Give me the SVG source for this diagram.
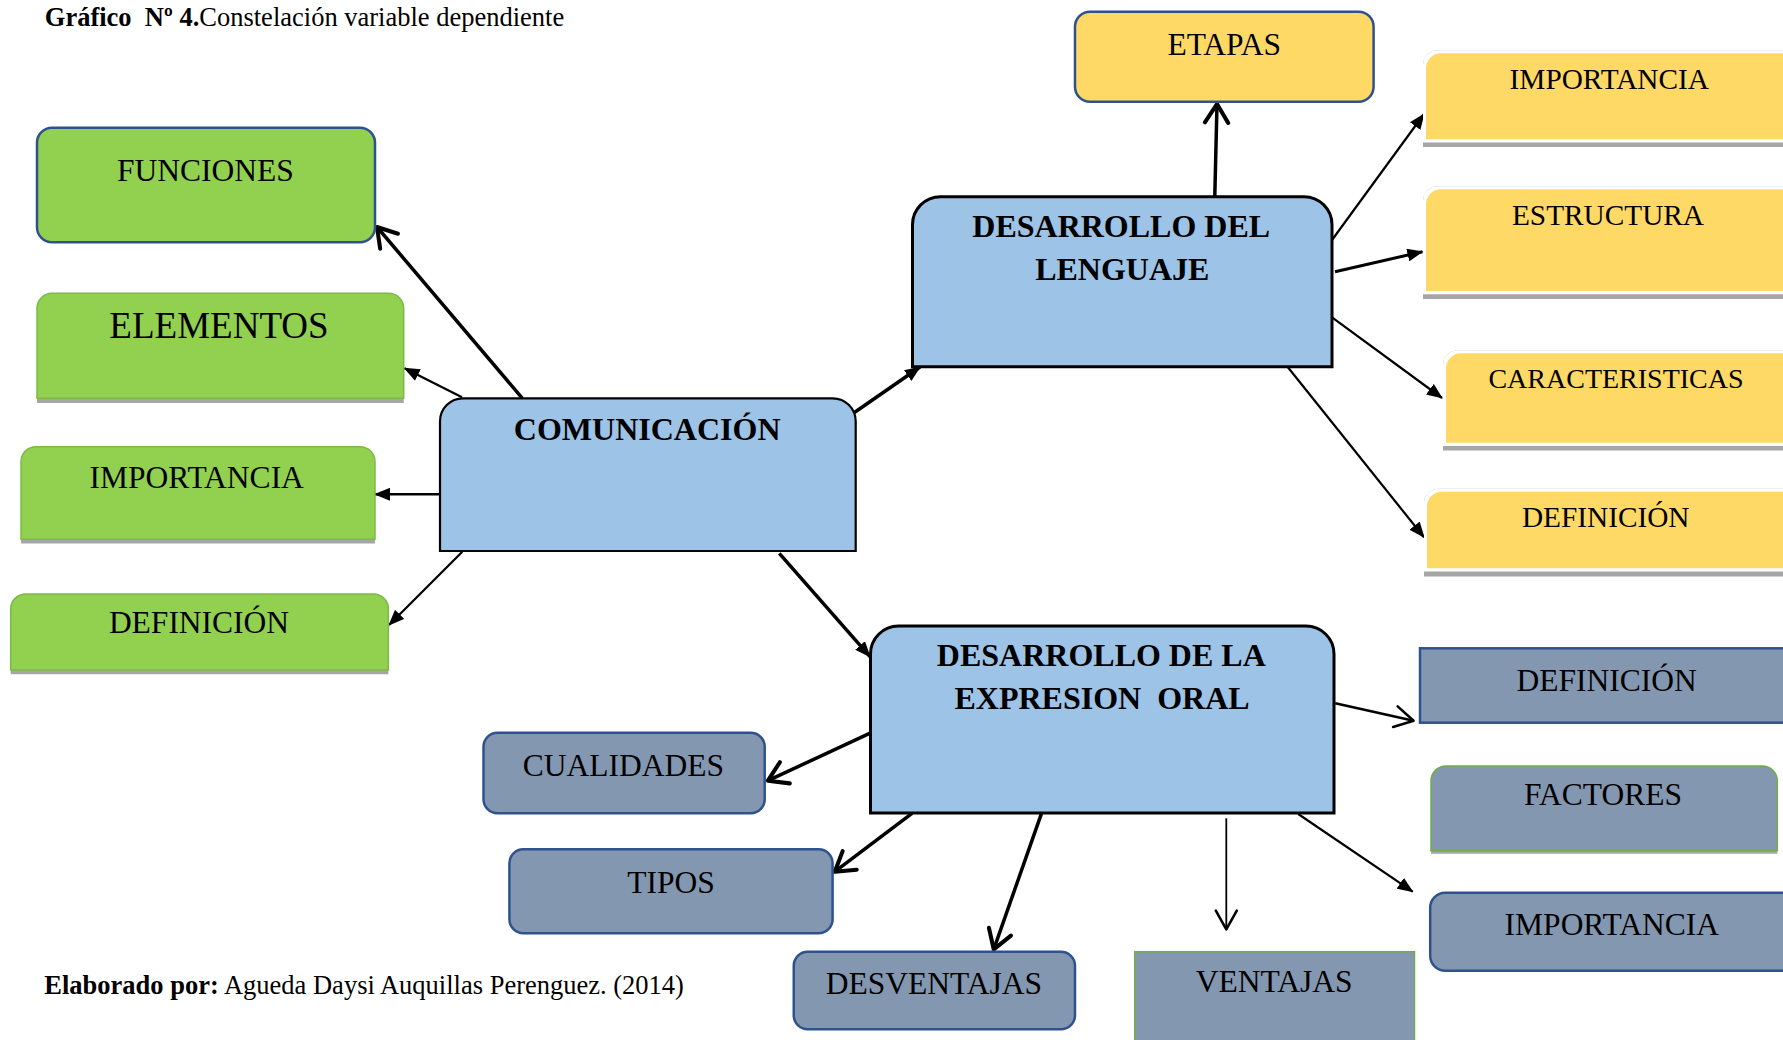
<svg xmlns="http://www.w3.org/2000/svg" width="1783" height="1040" viewBox="0 0 1783 1040">
<style>
text{font-family:"Liberation Serif","Times New Roman",serif;fill:#000;white-space:pre}
.t{font-size:31.5px;text-anchor:middle}
.ty{font-size:29.3px;text-anchor:middle}
.b{font-size:32px;font-weight:bold;text-anchor:middle}
.green{fill:#92D050;stroke:#7DB946;stroke-width:1.5}
.yel{fill:#FFD966}
.white{fill:#FFFFFF}
.shadow{fill:#A6A6A6}
.blue{fill:#9DC3E6;stroke:#000}
.slate{fill:#8497B0;stroke:#2F528F;stroke-width:2.5}
.slateg{fill:#8497B0;stroke:#70AD47;stroke-width:1.5}
.gold{fill:#FFD966;stroke:#2F528F;stroke-width:2.5}
.gbox{fill:#92D050;stroke:#2F528F;stroke-width:2.5}
.c{fill:none;stroke:#000}
</style>
<defs>
<marker id="tri" markerUnits="userSpaceOnUse" markerWidth="16" markerHeight="13" viewBox="0 0 16 13" refX="15" refY="6.5" orient="auto"><path d="M0,0 L16,6.5 L0,13 z" fill="#000"/></marker>
<marker id="openK" markerUnits="userSpaceOnUse" markerWidth="24" markerHeight="28" viewBox="0 0 20 24" refX="18" refY="12" orient="auto" overflow="visible"><path d="M2,2 L18,12 L2,22" fill="none" stroke="#000" stroke-width="3.5" stroke-linejoin="round" stroke-linecap="round"/></marker>
<marker id="openN" markerUnits="userSpaceOnUse" markerWidth="24" markerHeight="28" viewBox="0 0 20 24" refX="18" refY="12" orient="auto" overflow="visible"><path d="M2,3 L18,12 L2,21" fill="none" stroke="#000" stroke-width="2.2" stroke-linejoin="round" stroke-linecap="round"/></marker>
</defs>
<rect width="1783" height="1040" fill="#FFFFFF"/>

<g id="title">
<text x="44.8" y="25.7" font-size="26.5"><tspan font-weight="bold">Gráfico  Nº 4.</tspan>Constelación variable dependiente</text>
</g>
<g id="credit">
<text x="44.3" y="994" font-size="26.5"><tspan font-weight="bold">Elaborado por:</tspan> Agueda Daysi Auquillas Perenguez. (2014)</text>
</g>

<g id="connectors">
<path class="c" stroke-width="3.5" d="M522.4,398.3 L377,227" marker-end="url(#openK)"/>
<path class="c" stroke-width="2.2" d="M462,397.3 L404.5,368.3" marker-end="url(#tri)"/>
<path class="c" stroke-width="2.5" d="M440,494.3 L375,494.3" marker-end="url(#tri)"/>
<path class="c" stroke-width="2.2" d="M462.3,551.7 L389,625" marker-end="url(#tri)"/>
<path class="c" stroke-width="3.5" d="M853.3,413.3 L920,367" marker-end="url(#tri)"/>
<path class="c" stroke-width="3.5" d="M779.3,553.3 L870,656.7" marker-end="url(#tri)"/>
<path class="c" stroke-width="3.5" d="M1214.8,196 L1217,104" marker-end="url(#openK)"/>
<path class="c" stroke-width="2.2" d="M1332,240 L1424,114" marker-end="url(#tri)"/>
<path class="c" stroke-width="3" d="M1335,271.7 L1422.4,251.7" marker-end="url(#tri)"/>
<path class="c" stroke-width="2.2" d="M1331,316.7 L1442,398" marker-end="url(#tri)"/>
<path class="c" stroke-width="2.2" d="M1287.5,366.7 L1424,537.3" marker-end="url(#tri)"/>
<path class="c" stroke-width="2.5" d="M1335.2,703.3 L1413.6,720.7" marker-end="url(#openN)"/>
<path class="c" stroke-width="3.5" d="M869.6,733.3 L767.9,780.7" marker-end="url(#openK)"/>
<path class="c" stroke-width="3.5" d="M912,813.3 L834.8,871.7" marker-end="url(#openK)"/>
<path class="c" stroke-width="3.5" d="M1041.5,813.3 L993.75,949.3" marker-end="url(#openK)"/>
<path class="c" stroke-width="1.8" d="M1226.3,818.3 L1226.3,929.3" marker-end="url(#openN)"/>
<path class="c" stroke-width="2.2" d="M1298.2,814 L1412.7,891.7" marker-end="url(#tri)"/>
</g>

<g id="n-funciones">
<rect class="gbox" x="37" y="127.7" width="338" height="114.6" rx="15"/>
<text class="t" x="205.4" y="181">FUNCIONES</text>
</g>
<g id="n-elementos">
<path class="shadow" d="M37,403 V308.3 A15,15 0 0 1 52,293.3 H388.7 A15,15 0 0 1 403.7,308.3 V403 Z"/>
<path class="green" d="M37,398.3 V308.3 A15,15 0 0 1 52,293.3 H388.7 A15,15 0 0 1 403.7,308.3 V398.3 Z"/>
<text x="219" y="338.3" font-size="37" text-anchor="middle">ELEMENTOS</text>
</g>
<g id="n-importancia-c">
<path class="shadow" d="M21,543.5 V461.7 A15,15 0 0 1 36,446.7 H360 A15,15 0 0 1 375,461.7 V543.5 Z"/>
<path class="green" d="M21,539.3 V461.7 A15,15 0 0 1 36,446.7 H360 A15,15 0 0 1 375,461.7 V539.3 Z"/>
<text class="t" x="196.7" y="488.3">IMPORTANCIA</text>
</g>
<g id="n-definicion-c">
<path class="shadow" d="M10.7,674.3 V609 A15,15 0 0 1 25.7,594 H373.4 A15,15 0 0 1 388.4,609 V674.3 Z"/>
<path class="green" d="M10.7,670 V609 A15,15 0 0 1 25.7,594 H373.4 A15,15 0 0 1 388.4,609 V670 Z"/>
<text class="t" x="199" y="633.3">DEFINICIÓN</text>
</g>

<g id="n-comunicacion">
<path class="blue" stroke-width="2.2" d="M440,551 V421.3 A23,23 0 0 1 463,398.3 H832.7 A23,23 0 0 1 855.7,421.3 V551 Z"/>
<text class="b" x="647.2" y="440">COMUNICACIÓN</text>
</g>

<g id="n-lenguaje">
<path class="blue" stroke-width="3" d="M912.5,366.7 V224.7 A28,28 0 0 1 940.5,196.7 H1304 A28,28 0 0 1 1332,224.7 V366.7 Z"/>
<text class="b" x="1121.2" y="237.3">DESARROLLO DEL</text>
<text class="b" x="1122.3" y="280">LENGUAJE</text>
</g>

<g id="n-etapas">
<rect class="gold" x="1075" y="11.7" width="298.6" height="90" rx="15"/>
<text class="t" x="1224.2" y="55">ETAPAS</text>
</g>

<g id="n-importancia-l">
<path class="shadow" d="M1423,147 V65.3 A15,15 0 0 1 1438,50.3 H1800 V147 Z"/>
<path class="white" d="M1423,142.5 V65.3 A15,15 0 0 1 1438,50.3 H1800 V142.5 Z"/>
<path class="yel" d="M1426,139.3 V68.3 A15,15 0 0 1 1441,53.3 H1800 V139.3 Z"/>
<text class="ty" x="1609.3" y="89.3">IMPORTANCIA</text>
</g>
<g id="n-estructura">
<path class="shadow" d="M1423,299 V201.3 A15,15 0 0 1 1438,186.3 H1800 V299 Z"/>
<path class="white" d="M1423,294.2 V201.3 A15,15 0 0 1 1438,186.3 H1800 V294.2 Z"/>
<path class="yel" d="M1426,291 V204.3 A15,15 0 0 1 1441,189.3 H1800 V291 Z"/>
<text class="ty" x="1608" y="225">ESTRUCTURA</text>
</g>
<g id="n-caracteristicas">
<path class="shadow" d="M1443,450.5 V365.3 A15,15 0 0 1 1458,350.3 H1800 V450.5 Z"/>
<path class="white" d="M1443,445.9 V365.3 A15,15 0 0 1 1458,350.3 H1800 V445.9 Z"/>
<path class="yel" d="M1446,442.7 V368.3 A15,15 0 0 1 1461,353.3 H1800 V442.7 Z"/>
<text x="1616" y="388.3" font-size="28" text-anchor="middle">CARACTERISTICAS</text>
</g>
<g id="n-definicion-l">
<path class="shadow" d="M1424,576.5 V503.7 A15,15 0 0 1 1439,488.7 H1800 V576.5 Z"/>
<path class="white" d="M1424,571.5 V503.7 A15,15 0 0 1 1439,488.7 H1800 V571.5 Z"/>
<path class="yel" d="M1427,568.3 V506.7 A15,15 0 0 1 1442,491.7 H1800 V568.3 Z"/>
<text class="ty" x="1605.7" y="527.3">DEFINICIÓN</text>
</g>

<g id="n-expresion">
<path class="blue" stroke-width="3" d="M870.5,813 V654 A28,28 0 0 1 898.5,626 H1306 A28,28 0 0 1 1334,654 V813 Z"/>
<text class="b" x="1101.3" y="666">DESARROLLO DE LA</text>
<text class="b" x="1102" y="709.3">EXPRESION  ORAL</text>
</g>

<g id="n-definicion-e">
<rect class="slate" x="1420" y="648.3" width="380" height="74.4"/>
<text class="t" x="1606.7" y="691">DEFINICIÓN</text>
</g>
<g id="n-factores">
<path class="shadow" d="M1431,853.8 V781 A15,15 0 0 1 1446,766 H1762.3 A15,15 0 0 1 1777.3,781 V853.8 Z"/>
<path class="slateg" d="M1431,850.7 V781 A15,15 0 0 1 1446,766 H1762.3 A15,15 0 0 1 1777.3,781 V850.7 Z"/>
<text class="t" x="1603" y="805">FACTORES</text>
</g>
<g id="n-importancia-e">
<rect class="slate" x="1430.2" y="892.7" width="380" height="78" rx="15"/>
<text class="t" x="1611.8" y="935">IMPORTANCIA</text>
</g>
<g id="n-cualidades">
<rect class="slate" x="483.5" y="732.7" width="281.2" height="80.6" rx="14"/>
<text class="t" x="623.4" y="776">CUALIDADES</text>
</g>
<g id="n-tipos">
<rect class="slate" x="509.4" y="849.3" width="323.2" height="84" rx="14"/>
<text class="t" x="671" y="892.7">TIPOS</text>
</g>
<g id="n-desventajas">
<rect class="slate" x="793.75" y="951.7" width="281.25" height="77.6" rx="14"/>
<text class="t" x="933.9" y="994">DESVENTAJAS</text>
</g>
<g id="n-ventajas">
<rect class="slateg" x="1134.8" y="951.7" width="279.7" height="100"/>
<text class="t" x="1274.2" y="991.7">VENTAJAS</text>
</g>
</svg>
